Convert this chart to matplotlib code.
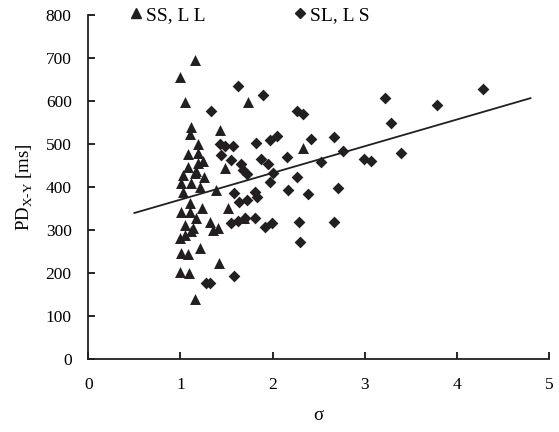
import numpy as np
import matplotlib.pyplot as plt
from matplotlib.lines import Line2D

plt.rcParams['font.family'] = ['Liberation Serif', 'DejaVu Serif']
plt.rcParams['mathtext.fontset'] = 'custom'
plt.rcParams['mathtext.rm'] = 'Liberation Serif'

# SS, LL  (triangles)
tri_sigma = [1.16, 1.00, 1.05, 1.73, 1.11, 1.10, 1.43, 1.19, 1.08, 1.19,
             1.24, 1.08, 1.17, 1.48, 1.19, 1.03, 1.16, 1.26, 1.01, 1.12,
             1.21, 1.03, 1.39, 1.10, 1.23, 1.01, 1.10, 1.52, 1.17, 1.32,
             1.05, 1.14, 1.35, 1.41, 1.05, 0.99, 1.12, 1.69, 1.01, 1.08,
             1.21, 1.42, 1.00, 1.09, 1.16, 2.33]
tri_pd = [695, 655, 597, 598, 539, 523, 533, 499, 477, 478,
          461, 447, 436, 444, 455, 428, 432, 424, 409, 409,
          400, 389, 392, 363, 351, 342, 342, 350, 327, 319,
          311, 304, 300, 304, 288, 280, 296, 327, 246, 244,
          257, 223, 202, 199, 138, 490]

# SL, LS  (diamonds)
dia_sigma = [1.63, 1.90, 1.33, 2.27, 2.33, 3.22, 4.28, 3.78, 3.29, 1.43,
             1.48, 1.57, 1.82, 1.97, 2.05, 2.42, 2.67, 1.44, 1.55, 1.87,
             2.16, 2.76, 1.66, 1.95, 2.53, 2.99, 3.07, 3.39, 1.68, 1.72,
             2.01, 2.26, 1.97, 2.17, 2.38, 2.71, 1.58, 1.83, 1.81, 1.64,
             1.72, 1.55, 1.62, 1.70, 1.81, 1.92, 1.99, 2.29, 2.67, 2.30,
             1.28, 1.32, 1.58]
dia_pd = [635, 615, 577, 577, 570, 606, 627, 591, 548, 500,
          495, 495, 501, 509, 519, 511, 515, 474, 463, 466,
          470, 483, 453, 453, 457, 464, 460, 478, 439, 431,
          433, 422, 412, 393, 383, 397, 386, 377, 389, 365,
          369, 315, 321, 327, 327, 307, 315, 317, 319, 272,
          175, 175, 192]

# trend line
line_x = [0.5, 4.8]
slope, intercept = 62.2, 308.0

fig = plt.figure(figsize=(5.59, 4.32), dpi=100)
ax = fig.add_axes([0.158, 0.170, 0.824, 0.795])

ax.scatter(tri_sigma, tri_pd, marker='^', s=62, c='#231f20', linewidths=0, zorder=3)
ax.scatter(dia_sigma, dia_pd, marker='D', s=36, c='#231f20', linewidths=0, zorder=3)
lx = np.array(line_x)
ax.plot(lx, slope * lx + intercept, color='#231f20', lw=1.3, zorder=2)

ax.set_xlim(0, 5)
ax.set_ylim(0, 800)
ax.set_xticks(range(0, 6))
ax.set_yticks(range(0, 801, 100))
for s in ['top', 'right']:
    ax.spines[s].set_visible(False)
for s in ['left', 'bottom']:
    ax.spines[s].set_linewidth(1.3)
    ax.spines[s].set_color('#231f20')
ax.tick_params(axis='x', direction='in', length=5, width=1.2, pad=13, labelsize=12.5)
ax.tick_params(axis='y', direction='in', length=5, width=1.2, pad=12, labelsize=12.5)

ax.set_xlabel('σ', fontsize=13.5, labelpad=10)
ax.set_ylabel(r'PD$_{\rm X\text{-}Y}$ [ms]', fontsize=13.5, labelpad=8)

handles = [Line2D([], [], marker='^', ls='', color='#231f20', markersize=7),
           Line2D([], [], marker='D', ls='', color='#231f20', markersize=5.5)]
leg = ax.legend(handles, ['SS, L L', 'SL, L S'], ncol=2, frameon=False,
                loc='center left', bbox_to_anchor=(0.082, 1.0), fontsize=14,
                borderpad=0, borderaxespad=0,
                handletextpad=0.0, handlelength=1.0, columnspacing=4.4)

fig.savefig('out.png', dpi=100)
